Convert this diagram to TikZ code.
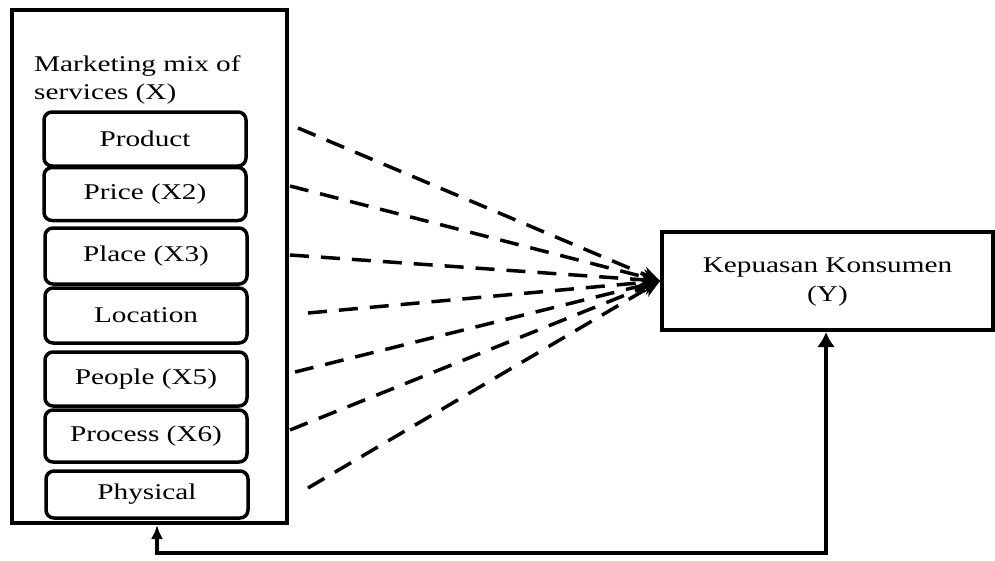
\documentclass[tikz,border=0pt]{standalone}
\usepackage{fontspec}
\usepackage{graphicx}
\setmainfont{Liberation Serif}
\usetikzlibrary{arrows.meta}
\newcommand{\wide}[1]{\scalebox{1.3}[1]{#1}}
\begin{document}
\begin{tikzpicture}[x=1pt,y=-1pt,
  every node/.style={font=\fontsize{22.5}{28}\selectfont},
  outerbox/.style={draw,line width=4pt,minimum width=275pt,minimum height=513pt,inner sep=0pt},
  ibox/.style={draw,fill=white,line width=3.5pt,rounded corners=8pt,minimum width=202pt,minimum height=#1,inner sep=0pt},
  ybox/.style={draw,line width=4pt,minimum width=331pt,minimum height=98pt,inner sep=0pt,align=center},
  dashline/.style={line width=3.5pt,dash pattern=on 19pt off 12pt,-{Stealth[length=18pt,width=15pt]}},
  solidarrow/.style={line width=4pt,{Latex[length=15pt,width=18pt]}-{Latex[length=14pt,width=12pt]}}
]
\useasboundingbox (0,0) rectangle (995,560);
\node[outerbox] (X) at (149.5,266.5) {};
\node[anchor=north west,align=left,inner sep=0pt] (title) at (34,55) {\wide{Marketing mix of}\\\wide{services (X)}};
\node[ibox=54pt] (p1) at (145,139) {\wide{Product}};
\node[ibox=53pt] (p2) at (145,194) {\wide{Price (X2)}};
\node[ibox=56pt] (p3) at (146,256) {\wide{Place (X3)}};
\node[ibox=55pt] (p4) at (146,315.5) {\wide{Location}};
\node[ibox=54pt] (p5) at (146,379) {\wide{People (X5)}};
\node[ibox=52pt] (p6) at (146,436) {\wide{Process (X6)}};
\node[ibox=47pt] (p7) at (147,494.5) {\wide{Physical}};
\node[ybox] (Y) at (827.5,281) {\raisebox{6pt}{\begin{tabular}{@{}c@{}}\wide{Kepuasan Konsumen}\\[1pt]\wide{(Y)}\end{tabular}}};
\coordinate (s1) at (298,128);
\coordinate (s2) at (290,186);
\coordinate (s3) at (290,255);
\coordinate (s4) at (308,313);
\coordinate (s5) at (295,372);
\coordinate (s6) at (290,430);
\coordinate (s7) at (308,488);
\foreach \i in {1,...,7} {\draw[dashline] (s\i) -- (Y.west);}
\coordinate (bl) at (157,553);
\coordinate (br) at (826,553);
\draw[solidarrow] (Y.south -| br) -- (br) -- (bl) -- (bl |- X.south);
\end{tikzpicture}
\end{document}
